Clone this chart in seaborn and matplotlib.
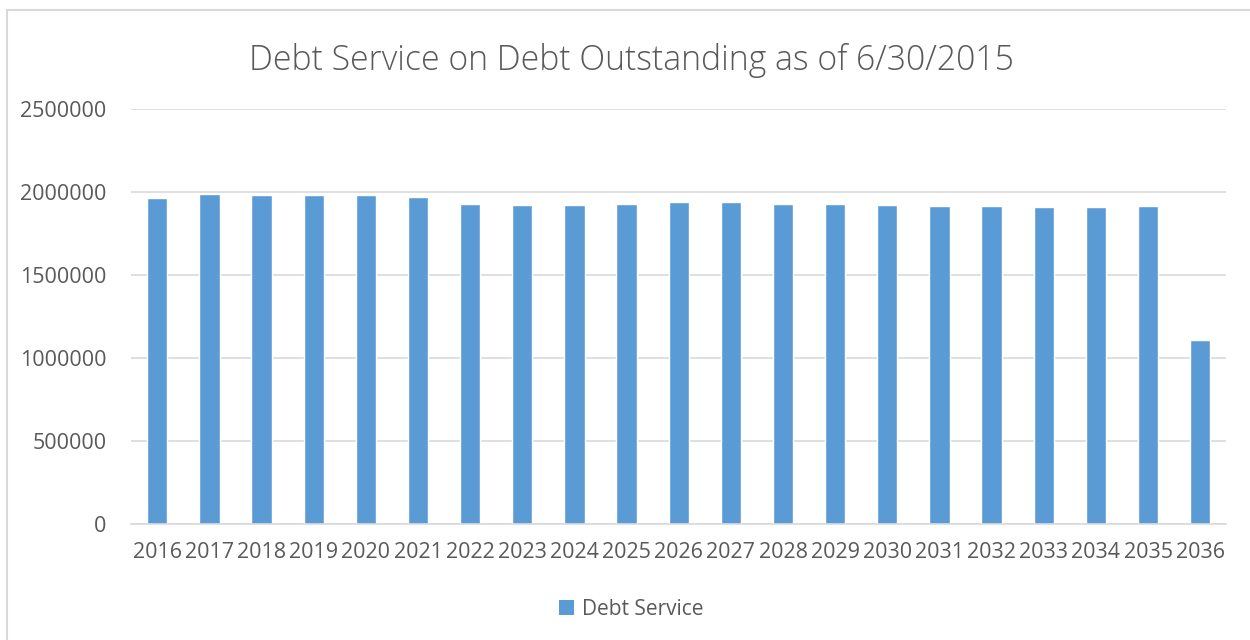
import matplotlib
matplotlib.use("Agg")
import matplotlib.pyplot as plt
import seaborn as sns
import pandas as pd
from matplotlib.lines import Line2D
from matplotlib.patches import Patch

years = [str(y) for y in range(2016, 2037)]
debt_service = [1966000, 1988000, 1982000, 1984000, 1982000, 1970000, 1926000,
                1920000, 1918000, 1926000, 1940000, 1938000, 1930000, 1924000,
                1922000, 1916000, 1912000, 1910000, 1910000, 1914000, 1107000]
y_ticks = [0, 500000, 1000000, 1500000, 2000000, 2500000]

df = pd.DataFrame({"year": years, "value": debt_service})

sns.set_style("white")
plt.rcParams['font.family'] = ['Open Sans', 'DejaVu Sans']
text_color = "#595959"
bar_color = "#5B9BD5"
grid_color = "#D9D9D9"

fig = plt.figure(figsize=(12.5, 6.4), dpi=100)
ax = fig.add_axes([0.105, 0.181, 0.876, 0.649])

sns.barplot(data=df, x="year", y="value", color=bar_color, width=0.39,
            saturation=1, ax=ax)

ax.set_ylim(0, 2500000)
ax.set_xlim(-0.5, len(years) - 0.5)
ax.set_yticks(y_ticks)
ax.set_yticklabels([str(t) for t in y_ticks])
ax.yaxis.grid(True, color=grid_color, linewidth=1.2)
ax.set_axisbelow(True)
for s in ["top", "right", "left"]:
    ax.spines[s].set_visible(False)
ax.spines["bottom"].set_color(grid_color)
ax.spines["bottom"].set_linewidth(1.2)
ax.tick_params(axis="both", length=0, labelsize=15.5, colors=text_color)
ax.tick_params(axis="y", pad=18)
ax.tick_params(axis="x", pad=13)
ax.set_xlabel("")
ax.set_ylabel("")

fig.text(0.505, 0.906, "Debt Service on Debt Outstanding as of 6/30/2015",
         ha="center", va="center", fontsize=24.3, color=text_color, fontweight="light")

handle = Patch(facecolor=bar_color, edgecolor="none")
fig.legend([handle], ["Debt Service"], loc="center", bbox_to_anchor=(0.505, 0.048),
           frameon=False, fontsize=15, labelcolor=text_color,
           handlelength=0.7, handleheight=0.7, handletextpad=0.4)

# chart border
fig.add_artist(Line2D([7 / 1250, 1.0], [1 - 10 / 640, 1 - 10 / 640],
                      color=grid_color, linewidth=1.5, transform=fig.transFigure))
fig.add_artist(Line2D([7 / 1250, 7 / 1250], [0, 1 - 10 / 640],
                      color=grid_color, linewidth=1.5, transform=fig.transFigure))

fig.savefig("out.png", dpi=100)
